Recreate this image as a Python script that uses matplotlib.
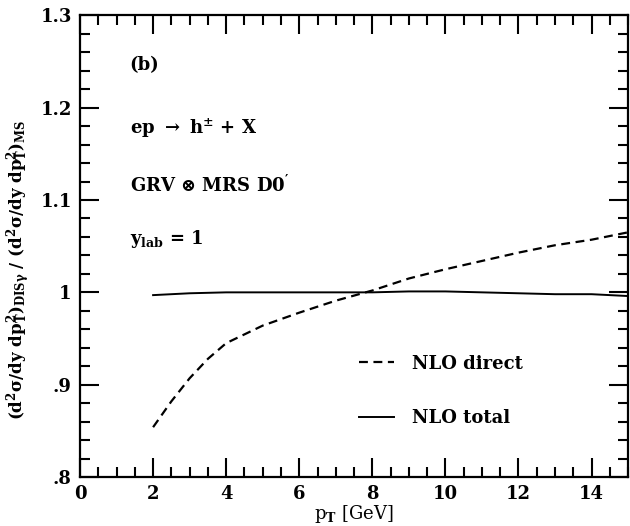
import numpy as np
import matplotlib
matplotlib.use("Agg")
import matplotlib.pyplot as plt
from matplotlib.ticker import MultipleLocator, FixedLocator, FixedFormatter

plt.rcParams["font.family"] = ["DejaVu Serif"]
plt.rcParams["font.weight"] = "bold"
plt.rcParams["mathtext.fontset"] = "custom"
plt.rcParams["mathtext.rm"] = "DejaVu Serif:bold"
plt.rcParams["mathtext.it"] = "DejaVu Serif:bold"
plt.rcParams["mathtext.bf"] = "DejaVu Serif:bold"
plt.rcParams["mathtext.default"] = "rm"

# ratio DIS-gamma / MS vs pT
pt_direct = [2, 2.5, 3, 3.5, 4, 5, 6, 7, 8, 9, 10, 11, 12, 13, 14, 15]
nlo_direct = [0.854, 0.882, 0.907, 0.928, 0.945, 0.964, 0.978, 0.991, 1.002, 1.015, 1.025, 1.034, 1.043, 1.051, 1.057, 1.065]

pt_total = [2, 3, 4, 5, 6, 7, 8, 9, 10, 11, 12, 13, 14, 15]
nlo_total = [0.997, 0.999, 1.000, 1.000, 1.000, 1.000, 1.000, 1.001, 1.001, 1.000, 0.999, 0.998, 0.998, 0.996]

ytick_vals = [0.8, 0.9, 1.0, 1.1, 1.2, 1.3]
ytick_labels = [".8", ".9", "1", "1.1", "1.2", "1.3"]

fig = plt.figure(figsize=(6.3, 5.26), dpi=100)
ax = fig.add_axes([0.127, 0.093, 0.870, 0.878])

ax.plot(pt_direct, nlo_direct, color="black", lw=1.6, ls=(0, (4, 2.5)), label="NLO direct")
ax.plot(pt_total, nlo_total, color="black", lw=1.4, label="NLO total")

ax.set_xlim(0, 15)
ax.set_ylim(0.8, 1.3)
ax.xaxis.set_major_locator(MultipleLocator(2))
ax.xaxis.set_minor_locator(MultipleLocator(0.5))
ax.yaxis.set_major_locator(FixedLocator(ytick_vals))
ax.yaxis.set_major_formatter(FixedFormatter(ytick_labels))
ax.yaxis.set_minor_locator(MultipleLocator(0.02))
ax.tick_params(which="both", direction="in", top=True, right=True, width=1.5, labelsize=13)
ax.tick_params(which="major", length=14, pad=6)
ax.tick_params(which="minor", length=7)
for s in ax.spines.values():
    s.set_linewidth(1.6)

ax.set_xlabel(r"p$_{\rm T}$ [GeV]", fontsize=13, labelpad=0)
ax.set_ylabel(r"(d$^2\sigma$/dy dp$_{\rm T}^2$)$_{\rm DIS\gamma}$ / (d$^2\sigma$/dy dp$_{\rm T}^2$)$_{\rm MS}$",
              fontsize=12, fontweight="bold")
ax.yaxis.set_label_coords(-0.088, 0.45)

ax.text(1.36, 1.246, "(b)", fontsize=13, va="center")
ax.text(1.36, 1.178, r"ep $\rightarrow$ h$^{\pm}$ + X", fontsize=13, va="center")
ax.text(1.36, 1.116, r"GRV $\otimes$ MRS D0$'$", fontsize=13, va="center")
ax.text(1.36, 1.058, r"y$_{\rm lab}$ = 1", fontsize=13, va="center")

ax.legend(loc="upper left", bbox_to_anchor=(0.48, 0.30), frameon=False, fontsize=13,
          handlelength=1.9, handletextpad=1.0, labelspacing=2.0)

fig.savefig("out.png", dpi=100)
